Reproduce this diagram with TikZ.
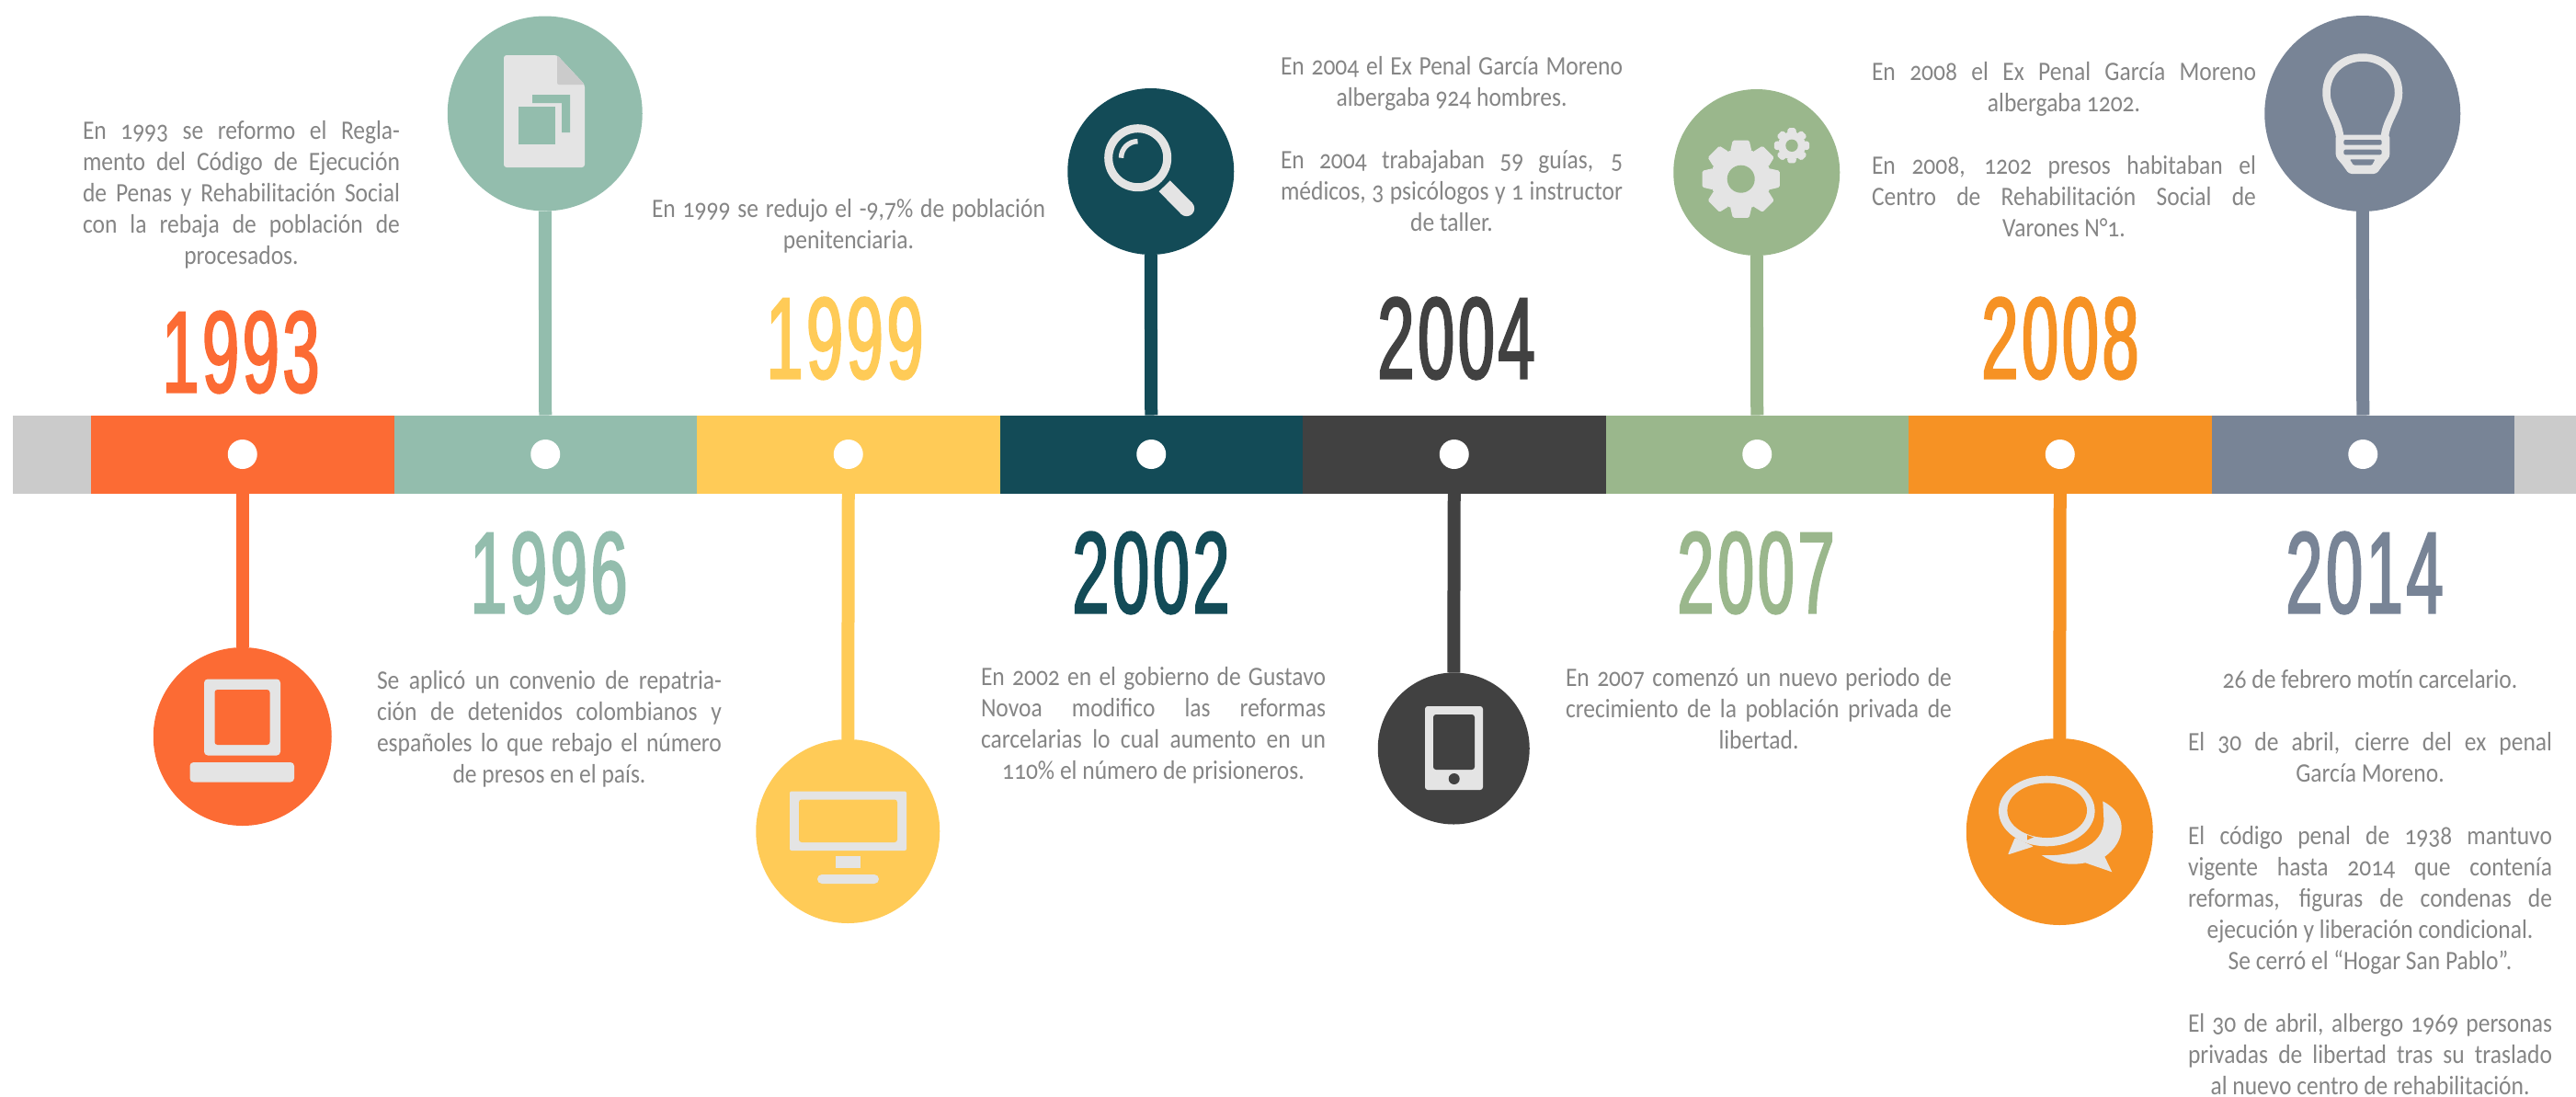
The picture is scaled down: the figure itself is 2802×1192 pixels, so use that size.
\documentclass[tikz,border=0pt]{standalone}
\usepackage{fontspec}
\usetikzlibrary{positioning}
\setmainfont[FakeStretch=0.88,Numbers=OldStyle]{Carlito}
\newfontfamily\yearfont[FakeStretch=0.57,FakeBold=1.8,LetterSpace=3]{Liberation Sans}
\definecolor{barorange}{HTML}{FC6B34}
\definecolor{barmint}{HTML}{93BDAD}
\definecolor{baryellow}{HTML}{FFCB57}
\definecolor{barpetrol}{HTML}{134B57}
\definecolor{bardark}{HTML}{414141}
\definecolor{bargreen}{HTML}{9AB78C}
\definecolor{baramber}{HTML}{F69224}
\definecolor{barslate}{HTML}{788496}
\definecolor{bargrey}{HTML}{CBCBCB}
\definecolor{iconfill}{HTML}{E4E4E4}
\definecolor{textgrey}{HTML}{858585}
\tikzstyle{barseg}=[rectangle,inner sep=0pt,outer sep=0pt,minimum width=329.5pt,minimum height=85pt]
\tikzstyle{bardot}=[circle,fill=white,inner sep=0pt,minimum size=32pt]
\tikzstyle{badge}=[circle,inner sep=0pt,outer sep=0pt]
\tikzstyle{stem}=[line width=14pt]
\tikzstyle{yearlabel}=[inner sep=0pt,font=\yearfont\fontsize{126}{126}\selectfont]
\tikzstyle{note}=[inner sep=0pt,text=textgrey,font=\fontsize{29}{34}\selectfont,execute at begin node={\centering\spaceskip=.2em\relax}]
\newcommand{\jl}[1]{\makebox[\hsize][s]{\spaceskip=.2em plus 1fil minus .08em\relax #1}}
\newcommand{\gearicon}[4]{%
  \begin{scope}[shift={(#1,#2)}]
    \fill[iconfill] (0,0) circle (#4);
    \foreach \a in {0,45,...,315}
      \fill[iconfill,rounded corners=1.5pt] (\a-21:#4-0.5) -- (\a-12:#3) -- (\a+12:#3) -- (\a+21:#4-0.5) -- cycle;
  \end{scope}}
\begin{document}
\begin{tikzpicture}[x=1pt,y=-1pt]
      \useasboundingbox (0,0) rectangle (2802,1192);
      \fill[bargrey] (14,451.5) rectangle (99,536.5);
      \fill[bargrey] (2735,451.5) rectangle (2802,536.5);

      \node [barseg,fill=barorange] (seg1) at (263.75,494) {};
      \node [barseg,fill=barmint,right=0pt of seg1] (seg2) {};
      \node [barseg,fill=baryellow,right=0pt of seg2] (seg3) {};
      \node [barseg,fill=barpetrol,right=0pt of seg3] (seg4) {};
      \node [barseg,fill=bardark,right=0pt of seg4] (seg5) {};
      \node [barseg,fill=bargreen,right=0pt of seg5] (seg6) {};
      \node [barseg,fill=baramber,right=0pt of seg6] (seg7) {};
      \node [barseg,fill=barslate,right=0pt of seg7] (seg8) {};
      \foreach \i in {1,...,8}
        \node [bardot] (dot\i) at (seg\i) {};

      \node [badge,fill=barorange,minimum size=194pt] (laptop) at (263.75,801) {};
      \node [badge,fill=barmint,minimum size=212pt] (document) at (592.75,123.5) {};
      \node [badge,fill=baryellow,minimum size=200pt] (monitor) at (922.25,904) {};
      \node [badge,fill=barpetrol,minimum size=181pt] (lens) at (1251.75,186.5) {};
      \node [badge,fill=bardark,minimum size=165pt] (phone) at (1581.25,814) {};
      \node [badge,fill=bargreen,minimum size=181pt] (gears) at (1910.75,187.5) {};
      \node [badge,fill=baramber,minimum size=203pt] (bubbles) at (2240.25,904.5) {};
      \node [badge,fill=barslate,minimum size=213pt] (bulb) at (2569.75,123.5) {};

      \draw[stem,barorange] (seg1.south) -- (laptop.north);
      \draw[stem,barmint] (seg2.north) -- (document.south);
      \draw[stem,baryellow] (seg3.south) -- (monitor.north);
      \draw[stem,barpetrol] (seg4.north) -- (lens.south);
      \draw[stem,bardark] (seg5.south) -- (phone.north);
      \draw[stem,bargreen] (seg6.north) -- (gears.south);
      \draw[stem,baramber] (seg7.south) -- (bubbles.north);
      \draw[stem,barslate] (seg8.north) -- (bulb.south);

      \node [yearlabel,text=barorange] (y1993) at (262,383) {1993};
      \node [yearlabel,text=barmint] (y1996) at (597,623) {1996};
      \node [yearlabel,text=baryellow] (y1999) at (919,368) {1999};
      \node [yearlabel,text=barpetrol] (y2002) at (1252,623) {2002};
      \node [yearlabel,text=bardark] (y2004) at (1584,368) {2004};
      \node [yearlabel,text=bargreen] (y2007) at (1910,623) {2007};
      \node [yearlabel,text=baramber] (y2008) at (2241,368) {2008};
      \node [yearlabel,text=barslate] (y2014) at (2572,623) {2014};

      \node [note,text width=345pt,anchor=north] (t1993) at (262.5,131) {\jl{En 1993 se reformo el Regla-}\\\jl{mento del Código de Ejecución}\\\jl{de Penas y Rehabilitación Social}\\\jl{con la rebaja de población de}\\procesados.};
      \node [note,text width=375pt,anchor=north] (t1996) at (597.5,729) {\jl{Se aplicó un convenio de repatria-}\\\jl{ción de detenidos colombianos y}\\\jl{españoles lo que rebajo el número}\\de presos en el país.};
      \node [note,text width=428pt,anchor=north] (t1999) at (923,216) {\jl{En 1999 se redujo el -9,7\% de población}\\penitenciaria.};
      \node [note,text width=375pt,anchor=north] (t2002) at (1254.5,725) {\jl{En 2002 en el gobierno de Gustavo}\\\jl{Novoa modifico las reformas}\\\jl{carcelarias lo cual aumento en un}\\110\% el número de prisioneros.};
      \node [note,text width=372pt,anchor=north] (t2004) at (1579,61) {\jl{En 2004 el Ex Penal García Moreno}\\albergaba 924 hombres.\\[34pt]\jl{En 2004 trabajaban 59 guías, 5}\\\jl{médicos, 3 psicólogos y 1 instructor}\\de taller.};
      \node [note,text width=420pt,anchor=north] (t2007) at (1913,726) {\jl{En 2007 comenzó un nuevo periodo de}\\\jl{crecimiento de la población privada de}\\libertad.};
      \node [note,text width=418pt,anchor=north] (t2008) at (2245,67) {\jl{En 2008 el Ex Penal García Moreno}\\albergaba 1202.\\[34pt]\jl{En 2008, 1202 presos habitaban el}\\\jl{Centro de Rehabilitación Social de}\\Varones N°1.};
      \node [note,text width=396pt,anchor=north] (t2014) at (2578,728) {26 de febrero motín carcelario.\\[34pt]\jl{El 30 de abril, cierre del ex penal}\\García Moreno.\\[34pt]\jl{El código penal de 1938 mantuvo}\\\jl{vigente hasta 2014 que contenía}\\\jl{reformas, figuras de condenas de}\\ejecución y liberación condicional.\\Se cerró el “Hogar San Pablo”.\\[34pt]\jl{El 30 de abril, albergo 1969 personas}\\\jl{privadas de libertad tras su traslado}\\al nuevo centro de rehabilitación.};

      \fill[iconfill,rounded corners=4pt] (222,738.5) rectangle (305,821.5);
      \fill[barorange,rounded corners=3pt] (233.5,750) rectangle (293.5,810);
      \fill[iconfill,rounded corners=4pt] (206.5,829) rectangle (320,850.5);

      \fill[iconfill,rounded corners=3pt] (548,60) -- (548,182) -- (636,182) -- (636,92) -- (606,60) -- cycle;
      \fill[bargrey,rounded corners=2pt] (606,60) -- (606,92) -- (636,92) -- cycle;
      \fill[barmint] (579,103) -- (620,103) -- (620,144) -- (611,144) -- (611,112) -- (579,112) -- cycle;
      \fill[barmint] (564,116) rectangle (604,157);

      \fill[iconfill,rounded corners=2pt] (859,860.5) rectangle (986,925);
      \fill[baryellow,rounded corners=3pt] (869,869.5) rectangle (976,916);
      \fill[iconfill] (909,931) rectangle (936,944);
      \fill[iconfill,rounded corners=5pt] (889,951) rectangle (956,961);

      \draw[iconfill,line width=9pt] (1237.7,171.7) circle (32);
      \draw[iconfill,line width=5.5pt] (1219.5,171.7) arc (180:270:18);
      \draw[iconfill,line width=17pt] (1266.7,202.3) -- (1290.7,226.7);
      \fill[iconfill] (1290.7,226.7) circle (8.5);

      \fill[iconfill,rounded corners=3pt] (1550,768) rectangle (1613,859);
      \fill[bardark,rounded corners=3pt] (1559,777) rectangle (1604,837);
      \fill[bardark] (1581.7,847) circle (6);

      \gearicon{1893.7}{194.7}{43}{33}
      \fill[bargreen] (1893.7,194.7) circle (15);
      \gearicon{1949}{158.3}{19.5}{15}
      \fill[bargreen] (1949,158.3) circle (6.7);

      \fill[iconfill] (2226.3,882) ellipse (52.3 and 38.3);
      \fill[iconfill,rounded corners=1pt] (2191.7,911) -- (2184,929.5) -- (2212,920.5) -- cycle;
      \fill[baramber] (2226.7,881.3) ellipse (43.3 and 29.7);
      \fill[baramber] (2205,908) -- (2205,913.5) -- (2212,910.5) -- cycle;
      \fill[iconfill] (2287.3,871.3) .. controls (2300,878) and (2307.7,888) .. (2307.7,900) .. controls (2307.7,913) and (2300,924) .. (2289.3,931.7) -- (2297.3,948.3) -- (2268.3,938.3) .. controls (2250,942) and (2232,938) .. (2220.7,930) .. controls (2250,932) and (2290,922) .. (2288.3,890) -- cycle;

      \draw[iconfill,line width=8.5pt] (2545,148) .. controls (2543,130) and (2530.5,118) .. (2530.5,101) .. controls (2530.5,78) and (2548,62.5) .. (2570,62.5) .. controls (2592,62.5) and (2609,78) .. (2609,101) .. controls (2609,118) and (2596,130) .. (2594,148);
      \fill[iconfill,rounded corners=3pt] (2540.7,146.7) -- (2599.3,146.7) -- (2599.3,170.7) -- (2593,178) -- (2585,189) -- (2555,189) -- (2547,178) -- (2540.7,170.7) -- cycle;
      \fill[barslate,rounded corners=2pt] (2549.3,152) rectangle (2590.7,157.7);
      \fill[barslate,rounded corners=2pt] (2549.3,162.7) rectangle (2590.7,168.3);
      \fill[barslate,rounded corners=1pt] (2556,173.3) -- (2583.3,173.3) -- (2580,179.5) -- (2560,179.5) -- cycle;
    \end{tikzpicture}
\end{document}
